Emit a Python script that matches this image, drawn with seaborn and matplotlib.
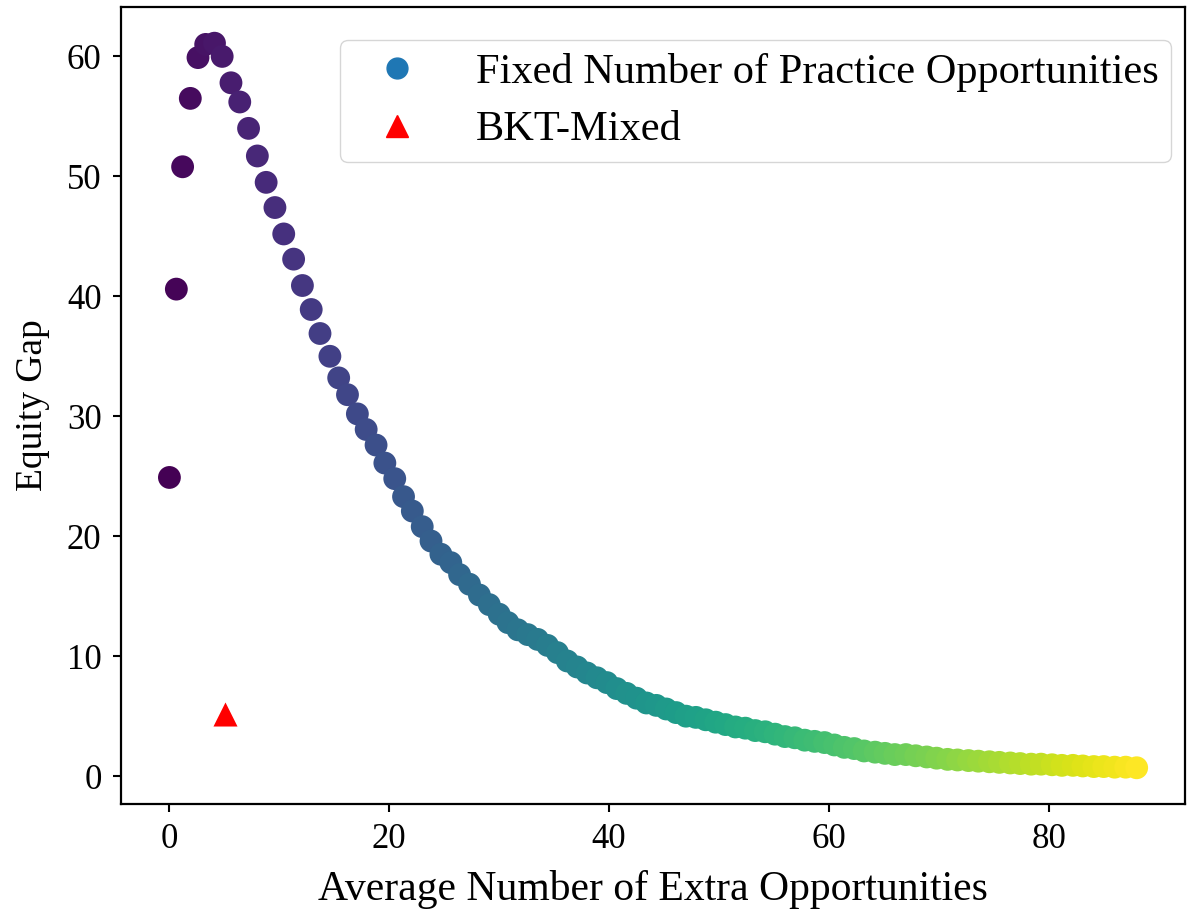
import numpy as np
import pandas as pd
import seaborn as sns
import matplotlib
matplotlib.use("Agg")
import matplotlib.pyplot as plt
from matplotlib.lines import Line2D

# Average extra opportunities vs. equity gap for each fixed number of practice opportunities
extra_opps = [
    0.0, 0.63, 1.2, 1.9, 2.6, 3.3, 4.1, 4.8, 5.6, 6.4,
    7.2, 8.0, 8.8, 9.6, 10.4, 11.3, 12.1, 12.9, 13.7, 14.6,
    15.4, 16.2, 17.1, 17.9, 18.8, 19.6, 20.5, 21.3, 22.1, 23.0,
    23.8, 24.7, 25.6, 26.4, 27.3, 28.2, 29.1, 30.0, 30.8, 31.7,
    32.6, 33.5, 34.4, 35.3, 36.2, 37.1, 38.0, 38.9, 39.8, 40.7,
    41.6, 42.5, 43.4, 44.3, 45.2, 46.1, 47.0, 47.9, 48.8, 49.7,
    50.6, 51.5, 52.4, 53.3, 54.2, 55.1, 56.0, 56.9, 57.8, 58.7,
    59.6, 60.5, 61.4, 62.3, 63.2, 64.2, 65.1, 66.0, 67.0, 67.9,
    68.9, 69.8, 70.8, 71.7, 72.7, 73.6, 74.6, 75.5, 76.5, 77.4,
    78.4, 79.3, 80.3, 81.2, 82.2, 83.1, 84.1, 85.0, 86.0, 87.0,
    88.0,
]
equity_gap = [
    24.9, 40.6, 50.8, 56.5, 59.9, 61.0, 61.1, 60.0, 57.8, 56.2,
    54.0, 51.7, 49.5, 47.4, 45.2, 43.1, 40.9, 38.9, 36.9, 35.0,
    33.2, 31.8, 30.2, 28.9, 27.6, 26.1, 24.8, 23.3, 22.1, 20.8,
    19.6, 18.5, 17.8, 16.8, 16.0, 15.1, 14.3, 13.5, 12.8, 12.2,
    11.8, 11.4, 10.9, 10.3, 9.6, 9.1, 8.6, 8.2, 7.8, 7.3,
    6.9, 6.5, 6.1, 5.9, 5.6, 5.3, 5.0, 4.9, 4.7, 4.5,
    4.3, 4.1, 4.0, 3.8, 3.7, 3.5, 3.3, 3.2, 3.0, 2.9,
    2.8, 2.6, 2.4, 2.3, 2.1, 2.0, 1.9, 1.8, 1.8, 1.7,
    1.6, 1.5, 1.4, 1.35, 1.3, 1.25, 1.2, 1.15, 1.1, 1.05,
    1.0, 1.0, 0.95, 0.9, 0.9, 0.85, 0.8, 0.8, 0.75, 0.75,
    0.7,
]

# Adaptive policy result
bkt_x = [5.1]
bkt_y = [5.2]

series_labels = ["Fixed Number of Practice Opportunities", "BKT-Mixed"]

sns.set_style("ticks")
plt.rcParams["font.family"] = ["Liberation Serif", "DejaVu Serif"]
plt.rcParams["text.color"] = "black"
plt.rcParams["axes.labelcolor"] = "black"
plt.rcParams["xtick.color"] = "black"
plt.rcParams["ytick.color"] = "black"
plt.rcParams["axes.edgecolor"] = "black"
plt.rcParams["axes.linewidth"] = 1.6
plt.rcParams["xtick.major.width"] = 1.5
plt.rcParams["ytick.major.width"] = 1.5
plt.rcParams["xtick.major.size"] = 6
plt.rcParams["ytick.major.size"] = 6

fixed = pd.DataFrame({"x": extra_opps, "y": equity_gap,
                      "order": np.arange(len(extra_opps))})
mixed = pd.DataFrame({"x": bkt_x, "y": bkt_y})

fig = plt.figure(figsize=(11.88, 9.18), dpi=100)
ax = fig.add_axes([0.1019, 0.1242, 0.8956, 0.8682])

sns.scatterplot(data=fixed, x="x", y="y", hue="order", palette="viridis",
                s=270, linewidth=0, legend=False, ax=ax)
sns.scatterplot(data=mixed, x="x", y="y", marker="^", color="red",
                s=300, linewidth=0, legend=False, ax=ax)

ax.set_xticks([0, 20, 40, 60, 80])
ax.set_yticks([0, 10, 20, 30, 40, 50, 60])
ax.tick_params(labelsize=25, pad=8)
ax.set_xlabel("Average Number of Extra Opportunities", fontsize=30,
              labelpad=10)
ax.set_ylabel("Equity Gap", fontsize=27, labelpad=12)
for s in ax.spines.values():
    s.set_visible(True)

handles = [
    Line2D([], [], linestyle="none", marker="o", color="#1f77b4",
           markersize=15),
    Line2D([], [], linestyle="none", marker="^", color="red",
           markersize=16),
]
ax.legend(handles, series_labels, loc="upper right",
          bbox_to_anchor=(0.9868, 0.9586), borderaxespad=0.0,
          fontsize=30.5, frameon=True, borderpad=0.3, handlelength=2.1,
          handletextpad=0.8, labelspacing=0.45)

fig.savefig("out.png", dpi=100)
